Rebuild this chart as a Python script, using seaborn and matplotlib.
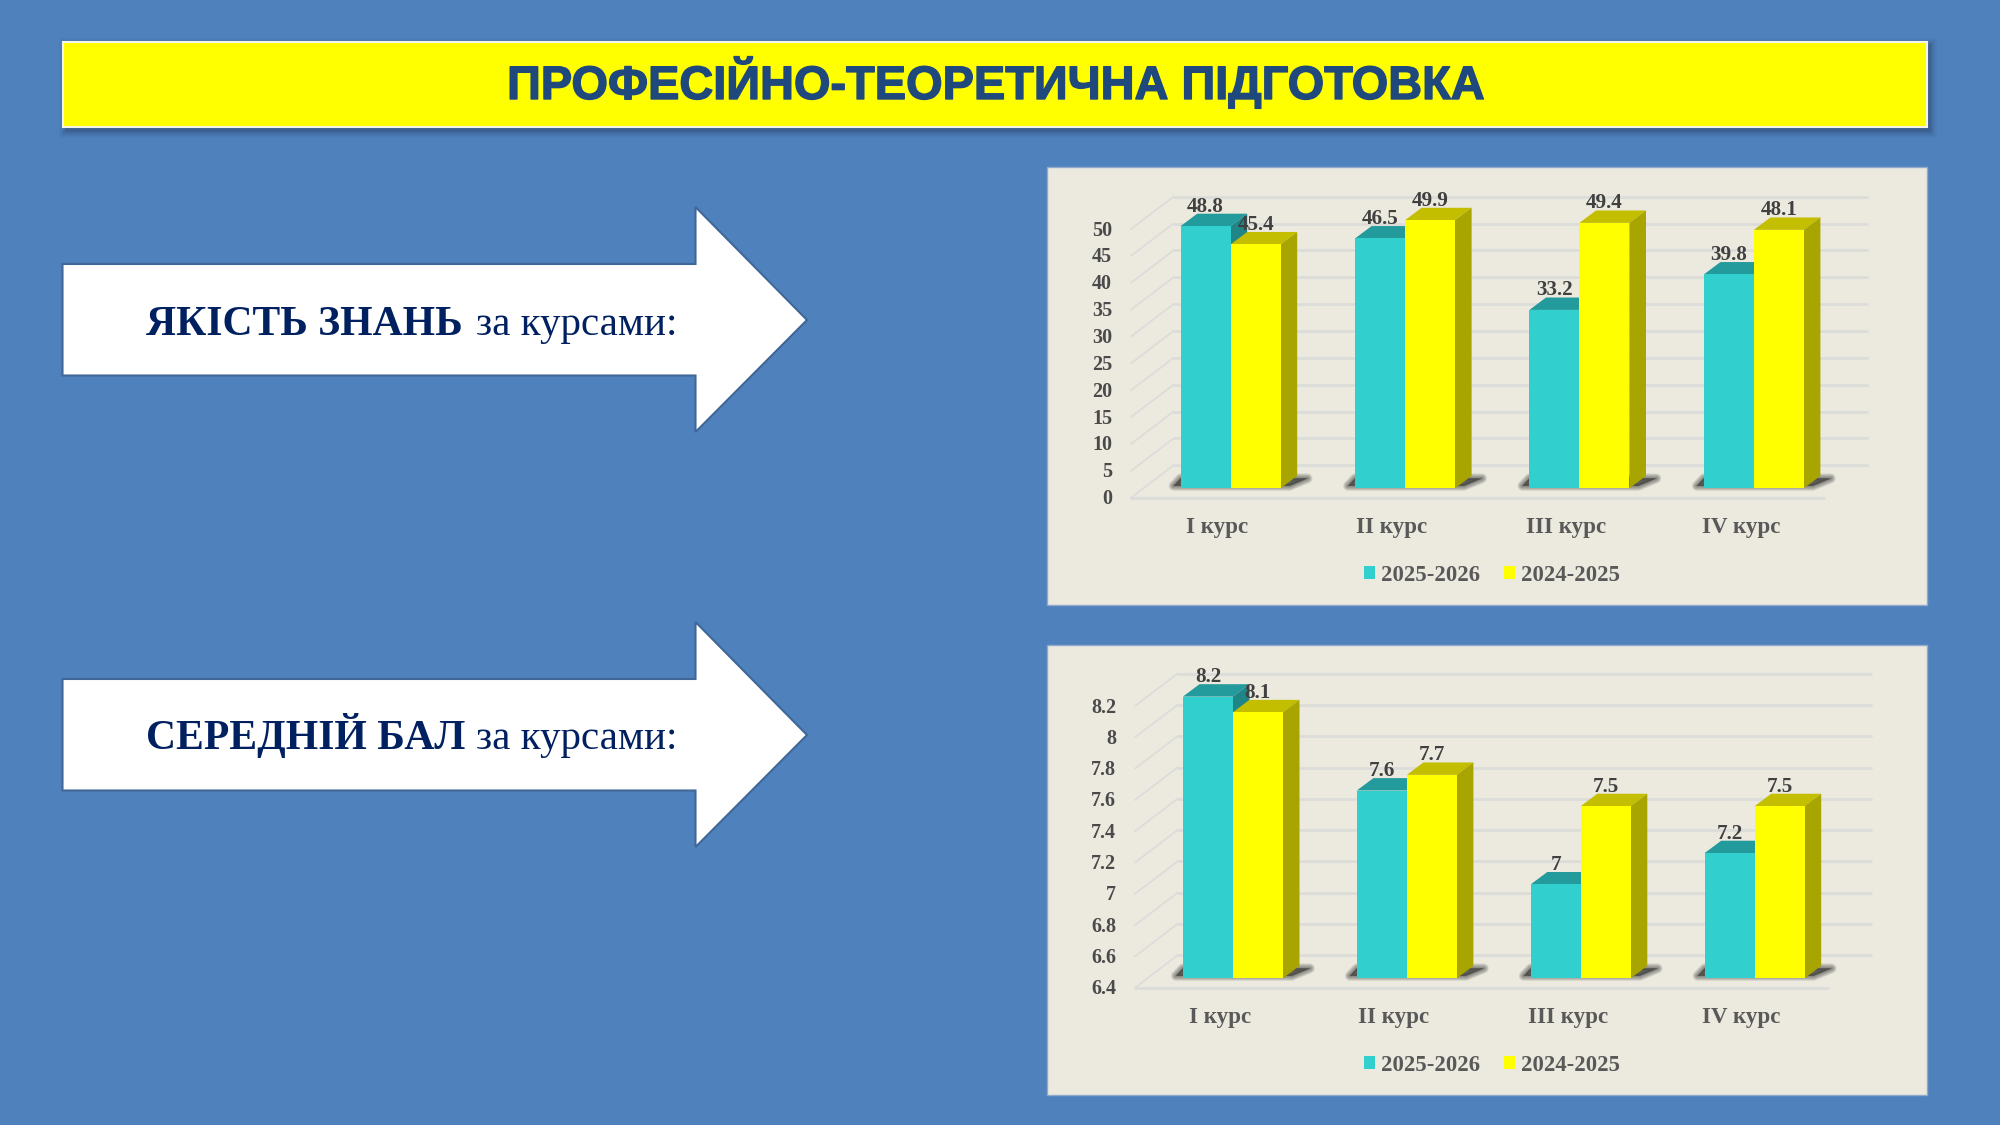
import matplotlib
matplotlib.use("Agg")
import matplotlib.pyplot as plt
import matplotlib.patheffects as pe
from matplotlib.patches import Polygon, Rectangle
from matplotlib.transforms import ScaledTranslation
import pandas as pd
import seaborn as sns

# dados
courses = ["I курс", "II курс", "III курс", "IV курс"]
years = ["2025-2026", "2024-2025"]
quality_new = [48.8, 46.5, 33.2, 39.8]
quality_old = [45.4, 49.9, 49.4, 48.1]
score_new = [8.2, 7.6, 7.0, 7.2]
score_old = [8.1, 7.7, 7.5, 7.5]
quality_ticks = [0, 5, 10, 15, 20, 25, 30, 35, 40, 45, 50]
score_ticks = [6.4, 6.6, 6.8, 7.0, 7.2, 7.4, 7.6, 7.8, 8.0, 8.2]

BG = "#4F81BD"
PANEL = "#ECEADF"
GRID = "#DCDCDA"
TEAL = "#31D0CF"
YELLOW = "#FFFF00"
TOPS = {0: "#239A9B", 1: "#C4BE00"}
SIDES = {0: "#1F8587", 1: "#A8A400"}
NAVY = "#002060"
SERIF = "Liberation Serif"
W, H = 2000, 1125
DEPTH_X, DEPTH_Y = 16.6, 12.4

sns.set_theme(style="white")
plt.rcParams["font.family"] = [SERIF, "DejaVu Sans"]

fig = plt.figure(figsize=(20, 11.25), dpi=100, facecolor=BG)

# fundo em pixels: titulo, setas e paineis
bg = fig.add_axes([0, 0, 1, 1], zorder=0)
bg.set_xlim(0, W)
bg.set_ylim(H, 0)
bg.axis("off")

for grow, a in [(7, 0.06), (5, 0.08), (3, 0.12), (1, 0.2)]:
    bg.add_patch(Rectangle((63 - grow + 3, 41 - grow + 4), 1864 + 2 * grow, 86 + 2 * grow,
                           fc="#1F3050", ec="none", alpha=a))
bg.add_patch(Rectangle((63, 41.5), 1864, 85.5, fc=YELLOW, ec="#F4F4E8", lw=1.5))
bg.text(996, 83, "ПРОФЕСІЙНО-ТЕОРЕТИЧНА ПІДГОТОВКА", ha="center", va="center",
        family="Liberation Sans", weight="bold", fontsize=33.8, color="#1F497D",
        path_effects=[pe.withStroke(linewidth=1.0, foreground="#1F497D")])


def draw_arrow(dy, bold_text, baseline):
    pts = [(62.5, 264), (695.5, 264), (695.5, 207), (807, 320), (695.5, 432),
           (695.5, 375.5), (62.5, 375.5)]
    bg.add_patch(Polygon([(x, y + dy) for x, y in pts], fc="white", ec="#3F6797", lw=1.5))
    bg.text(146, baseline, bold_text, ha="left", va="baseline", weight="bold",
            fontsize=30, color=NAVY)
    bg.text(476, baseline, "за курсами:", ha="left", va="baseline", fontsize=29.5, color=NAVY)


draw_arrow(0, "ЯКІСТЬ ЗНАНЬ", 335)
draw_arrow(415, "СЕРЕДНІЙ БАЛ", 748.5)

bg.add_patch(Rectangle((1047, 167), 880, 437.5, fc=PANEL, ec="#8FAACB", lw=1))
bg.add_patch(Rectangle((1047, 645), 880, 450, fc=PANEL, ec="#8FAACB", lw=1))


def draw_chart(new, old, ticks, box, first_x, step_x, base_y, ppu, legend_y):
    left, right, top = box
    data = pd.DataFrame({
        "course": courses * 2,
        "year": [years[0]] * 4 + [years[1]] * 4,
        "value": new + old,
    })
    ax = fig.add_axes([left / W, 1 - base_y / H, (right - left) / W, (base_y - top) / H], zorder=2)
    ax.patch.set_alpha(0)
    sns.barplot(data=data, x="course", y="value", hue="year", hue_order=years,
                palette=[TEAL, YELLOW], width=100 / step_x, gap=0, saturation=1,
                linewidth=0, ax=ax, zorder=5)
    ax.set_xlim((left - first_x) / step_x, (right - first_x) / step_x)
    ax.set_ylim(ticks[0], ticks[0] + (base_y - top) / ppu)
    ax.set_xlabel("")
    ax.set_ylabel("")
    sns.despine(ax=ax, left=True, bottom=True)
    ax.grid(False)

    dx = DEPTH_X / step_x
    dy = DEPTH_Y / ppu
    floor = ticks[0]

    # paredes: linhas de grade da frente, do fundo e da lateral
    front_y = -9.4 / ppu
    back_y = 23 / ppu
    back_x = 42.5 / step_x
    x0, x1 = ax.get_xlim()
    xfront_end = x0 + 693 / step_x
    xback_end = x0 + 736 / step_x
    for v in ticks:
        ax.plot([x0 + back_x, xback_end], [v + back_y] * 2, color=GRID, lw=2,
                clip_on=False, zorder=1)
        ax.plot([x0, x0 + back_x], [v + front_y, v + back_y], color=GRID, lw=1.3,
                clip_on=False, zorder=1)
    ax.plot([x0, xfront_end], [floor + front_y] * 2, color=GRID, lw=2, clip_on=False, zorder=1)

    # sombra no chao, depois topo e lateral de cada barra
    for i, cont in enumerate(ax.containers):
        for bar in cont:
            bx, bw, bh = bar.get_x(), bar.get_width(), bar.get_height()
            xr = bx + bw
            ax.add_patch(Polygon([(xr, bh), (xr + dx, bh + dy), (bx + dx, bh + dy), (bx, bh)],
                                 fc=TOPS[i], ec="none", clip_on=False, zorder=3 + i * 0.5))
            ax.add_patch(Polygon([(xr, floor), (xr + dx, floor + dy), (xr + dx, bh + dy), (xr, bh)],
                                 fc=SIDES[i], ec="none", clip_on=False, zorder=3 + i * 0.5))
            if i == 0:
                pair_r = xr + bw
                shadow = [(bx, floor + 0.2 * dy), (bx - 7 / step_x, floor + 0.2 * dy),
                          (bx, floor + 0.8 * dy), (pair_r + 27 / step_x, floor + 0.8 * dy),
                          (pair_r + 9 / step_x, floor + 0.2 * dy)]
                for lw in [7, 5.5, 4, 2.5, 1, 0]:
                    ax.add_patch(Polygon(shadow, fc="#222222", ec="#222222", lw=lw, alpha=0.13,
                                         joinstyle="round", clip_on=False, zorder=2))
        ax.bar_label(cont, fmt="%g", padding=6.8, fontsize=15.2, weight="bold", color="#404040", zorder=8)

    # rotulos dos eixos deslocados para o plano da frente
    ax.set_yticks(ticks, [f"{t:g}" for t in ticks])
    ax.tick_params(axis="y", length=0, pad=13.5, labelsize=14.5, labelcolor="#4A4A4A")
    ax.tick_params(axis="x", length=0, pad=20.8, labelsize=16.6, labelcolor="#595959")
    for lab in ax.get_yticklabels():
        lab.set_weight("bold")
        lab.set_transform(lab.get_transform() + ScaledTranslation(0, -0.084, fig.dpi_scale_trans))
    for lab in ax.get_xticklabels():
        lab.set_weight("bold")
        lab.set_transform(lab.get_transform() + ScaledTranslation(-0.13, 0, fig.dpi_scale_trans))

    ax.legend(loc="center", bbox_to_anchor=(1492 / W, 1 - legend_y / H), bbox_transform=fig.transFigure,
              ncol=2, frameon=False, title=None, labelcolor="#595959",
              prop={"family": SERIF, "weight": "bold", "size": 16.4},
              handlelength=0.5, handleheight=0.5, handletextpad=0.25, columnspacing=1.05,
              borderpad=0, borderaxespad=0)
    return ax


draw_chart(quality_new, quality_old, quality_ticks, (1131, 1880, 175), 1230.6, 174.4, 488.3, 5.373, 575.3)
draw_chart(score_new, score_old, score_ticks, (1135, 1880, 650), 1232.9, 173.9, 978.3, 156.5, 1065.3)

fig.savefig("out.png", dpi=100, facecolor=BG)
